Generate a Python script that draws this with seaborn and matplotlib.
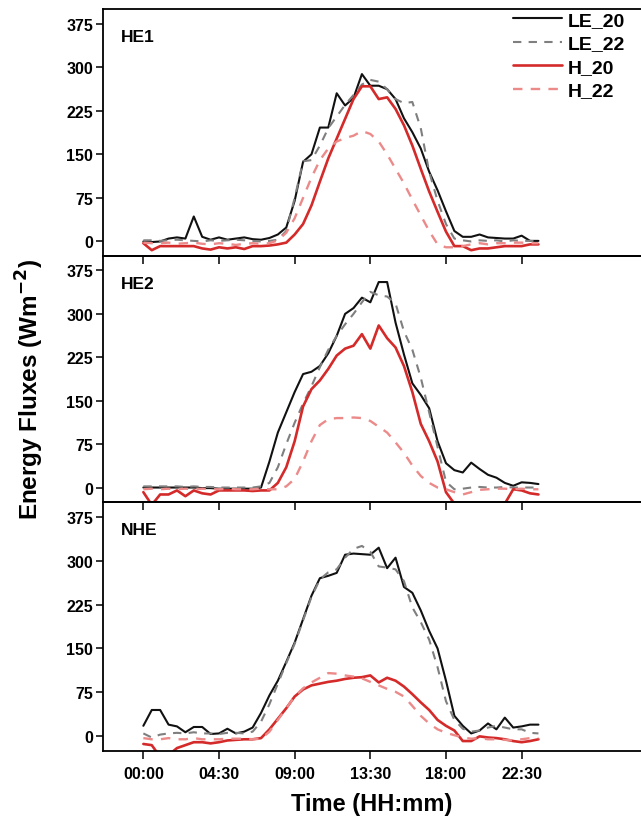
import numpy as np
import pandas as pd
import matplotlib
matplotlib.use("Agg")
import matplotlib.pyplot as plt
import seaborn as sns

# half-hourly time steps (hours)
hours = np.arange(48) * 0.5
tick_hours = [0, 4.5, 9, 13.5, 18, 22.5]
tick_labels = ["00:00", "04:30", "09:00", "13:30", "18:00", "22:30"]
panel_names = ["HE1", "HE2", "NHE"]
series_names = ["LE_20", "LE_22", "H_20", "H_22"]

he1_le20 = [0, -1, 0, 5, 7, 5, 43, 8, 3, 7, 3, 5, 7, 4, 3, 6,
            12, 24, 70, 137, 150, 196, 196, 255, 234, 247, 288, 268, 268, 262, 245, 212,
            188, 160, 120, 88, 52, 18, 8, 8, 12, 7, 6, 5, 5, 10, 1, 1]
he1_le22 = [2, 2, 1, 2, 3, 2, 1, 0, 2, 1, 2, 3, 2, 1, 0, 1,
            3, 18, 75, 138, 140, 165, 195, 215, 235, 252, 270, 278, 275, 262, 245, 238,
            240, 195, 120, 70, 30, 5, 2, 0, 2, 1, 2, 0, 2, 1, 1, 0]
he1_h20 = [-3, -15, -8, -8, -8, -8, -8, -12, -14, -10, -12, -10, -13, -8, -8, -7,
           -5, -2, 12, 30, 62, 103, 143, 177, 211, 245, 267, 267, 245, 248, 228, 200,
           165, 125, 86, 51, 17, -8, -8, -15, -12, -12, -10, -8, -8, -8, -5, -5]
he1_h22 = [-2, -3, -3, -2, -4, -3, -2, -4, -5, -3, -4, -6, -4, -3, -4, -3,
           2, 15, 40, 75, 110, 140, 160, 172, 178, 182, 190, 185, 172, 150, 125, 100,
           72, 45, 18, -5, -10, -10, -8, -5, -3, -5, -3, -3, -2, -2, -3, -3]

he2_le20 = [0, 0, 0, 0, 0, 0, 0, -1, -1, -2, -2, -2, -2, -2, 0, 45,
            95, 130, 165, 196, 200, 210, 232, 262, 300, 310, 328, 320, 355, 355, 285, 230,
            180, 160, 137, 80, 42, 30, 26, 43, 32, 22, 17, 8, 3, 9, 8, 6]
he2_le22 = [2, 2, 2, 2, 2, 1, 2, 1, 1, 0, 0, 0, 0, 0, 2, 8,
            35, 75, 112, 145, 175, 208, 238, 262, 282, 300, 320, 338, 332, 330, 318, 270,
            238, 190, 130, 70, 10, -3, -2, 0, 1, 0, 0, 1, 0, 0, 0, 0]
he2_h20 = [-8, -30, -12, -12, -5, -15, -5, -10, -12, -5, -5, -5, -5, -6, -5, -5,
           8, 35, 80, 140, 170, 185, 205, 228, 240, 245, 265, 240, 280, 258, 242, 210,
           165, 110, 80, 45, -8, -28, -30, -32, -32, -30, -30, -28, -3, -5, -10, -12]
he2_h22 = [-3, -2, -3, -2, -3, -2, -3, -2, -3, -3, -2, -3, -3, -3, -2, -3,
           -3, 2, 15, 45, 80, 108, 118, 120, 120, 121, 120, 115, 105, 95, 78, 60,
           38, 20, 8, 0, -3, -8, -12, -8, -4, -3, -2, -2, -3, -2, -3, -3]

nhe_le20 = [18, 45, 45, 20, 17, 7, 16, 16, 4, 5, 13, 5, 8, 15, 40, 70,
            95, 127, 160, 200, 240, 270, 274, 279, 310, 312, 311, 310, 322, 287, 305, 255,
            245, 215, 180, 150, 95, 35, 18, 5, 10, 22, 12, 32, 15, 17, 20, 20]
nhe_le22 = [5, -2, 3, 5, 6, 5, 7, 5, 5, 4, 6, 6, 5, 8, 25, 55,
            90, 125, 158, 198, 238, 268, 280, 285, 305, 320, 325, 315, 290, 288, 285, 265,
            220, 195, 165, 118, 60, 28, 13, 8, 10, 15, 18, 15, 12, 12, 6, 5]
nhe_h20 = [-13, -15, -35, -32, -20, -15, -10, -10, -12, -10, -7, -6, -5, -5, -3, 12,
           30, 48, 68, 80, 87, 90, 93, 95, 98, 100, 101, 104, 92, 100, 95, 85,
           72, 58, 45, 28, 18, 10, -8, -8, 0, -2, -3, -5, -8, -10, -8, -5]
nhe_h22 = [-3, -5, -5, -3, -5, -5, -3, -5, -5, -5, -4, -4, -4, -5, -4, 8,
           28, 48, 68, 82, 92, 100, 108, 107, 104, 102, 99, 93, 87, 81, 76, 68,
           52, 35, 22, 12, 6, 2, -2, -4, -3, -5, -5, -6, -7, -5, -3, -3]

panels = [
    [he1_le20, he1_le22, he1_h20, he1_h22],
    [he2_le20, he2_le22, he2_h20, he2_h22],
    [nhe_le20, nhe_le22, nhe_h20, nhe_h22],
]

sns.set_style("ticks")
plt.rcParams['font.family'] = ['Liberation Sans', 'DejaVu Sans']
plt.rcParams['font.weight'] = 'bold'
for key in ['text.color', 'axes.labelcolor', 'xtick.color', 'ytick.color', 'axes.edgecolor']:
    plt.rcParams[key] = 'black'

styles = [
    dict(color="#111111", linewidth=1.5, linestyle="-"),
    dict(color="#7f7f7f", linewidth=1.5, linestyle=(0, (4, 3.5))),
    dict(color="#d42a2a", linewidth=1.9, linestyle="-"),
    dict(color="#ec8a8a", linewidth=1.7, linestyle=(0, (4, 3.5))),
]

fig = plt.figure(figsize=(6.41, 8.28), dpi=100)
W, H = 641.0, 828.0
left_px = 103
boxes = [(10, 257), (257, 503), (503, 752)]

for k, (top, bot) in enumerate(boxes):
    ax = fig.add_axes([left_px / W, 1 - bot / H, 1 - left_px / W, (bot - top) / H])
    for name, vals, st in zip(series_names, panels[k], styles):
        sns.lineplot(x=hours, y=vals, ax=ax, label=name if k == 0 else None, **st)
    ax.set_xlim(-2.4, 29.6)
    ax.set_ylim(-25, 400)
    ax.set_yticks([0, 75, 150, 225, 300, 375])
    ax.set_xticks(tick_hours)
    if k == 2:
        ax.set_xticklabels(tick_labels, fontsize=11.5, fontweight='bold')
    else:
        ax.set_xticklabels([])
    ax.tick_params(axis='y', labelsize=11.5, direction='out', length=5, width=1.1, pad=2)
    ax.tick_params(axis='x', direction='out', length=6, width=1.1, pad=5)
    for lab in ax.get_yticklabels():
        lab.set_fontweight('bold')
    for s in ['left', 'bottom', 'top']:
        ax.spines[s].set_linewidth(1.3)
    ax.spines['right'].set_visible(False)
    ax.set_xlabel("")
    ax.set_ylabel("")
    ax.patch.set_alpha(0)
    ax.text(0.033, 0.89, panel_names[k], transform=ax.transAxes, fontsize=12.5,
            fontweight='bold', va='center', ha='left')
    if k == 0:
        ax.legend(loc='upper left', bbox_to_anchor=(0.762, 0.99), frameon=False,
                  handlelength=2.5, handletextpad=0.3,
                  labelspacing=0.3, borderpad=0, borderaxespad=0,
                  prop={'weight': 'bold', 'size': 14})
    elif ax.get_legend() is not None:
        ax.get_legend().remove()

fig.text(0.047, 0.529, "Energy Fluxes (Wm$^{\\mathbf{-2}}$)", rotation=90,
         fontsize=17.5, fontweight='bold', ha='center', va='center')
fig.text(0.58, 0.028, "Time (HH:mm)", fontsize=17, fontweight='bold',
         ha='center', va='center')

fig.savefig("out.png", dpi=100)
